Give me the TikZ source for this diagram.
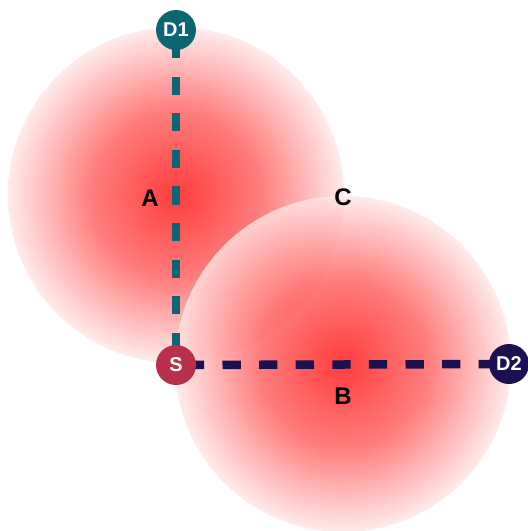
\documentclass[tikz,border=0pt]{standalone}
\usepackage{fontspec}
\setmainfont{Liberation Sans}
\usetikzlibrary{backgrounds}
\definecolor{blobin}{RGB}{255,12,12}
\definecolor{blobmid}{RGB}{255,92,92}
\definecolor{blobout}{RGB}{255,230,230}
\definecolor{tealc}{RGB}{12,101,114}
\definecolor{crims}{RGB}{184,48,75}
\definecolor{navyc}{RGB}{27,17,80}
\pgfdeclareradialshading{blob}{\pgfpointorigin}{color(0bp)=(blobin); color(12.5bp)=(blobmid); color(25bp)=(blobout); color(50bp)=(blobout)}
\tikzset{
  dnode/.style={circle, minimum size=40pt, inner sep=0pt, text=white,
    font=\fontsize{20}{20}\selectfont\bfseries},
  lbl/.style={inner sep=0pt, text=black, font=\fontsize{24}{24}\selectfont\bfseries},
  dashline/.style={line width=8.5pt, dash pattern=on 18.3pt off 18.3pt, dash phase=26.7pt},
  blobfill/.style={shading=blob, opacity=0.8}
}
\begin{document}
\begin{tikzpicture}[x=1pt,y=-1pt]
\useasboundingbox (0,0) rectangle (528,531);
\coordinate (c1) at (176,195);
\coordinate (c2) at (343,364);
\node[dnode, fill=tealc] (d1) at (176,30) {D1};
\node[dnode, fill=crims] (s) at (176,365) {S};
\node[dnode, fill=navyc] (d2) at (509,364) {D2};
\begin{scope}[on background layer]
  \shade[blobfill] (c1) circle (168pt);
  \shade[blobfill] (c2) circle (168pt);
  \draw[dashline, tealc] (d1.center) -- (s.center);
  \draw[dashline, navyc] (s.center) -- (d2.center);
\end{scope}
\node[lbl] (a) at (150,198) {A};
\node[lbl] (c) at (343,197) {C};
\node[lbl] (b) at (343,396) {B};
\end{tikzpicture}
\end{document}
